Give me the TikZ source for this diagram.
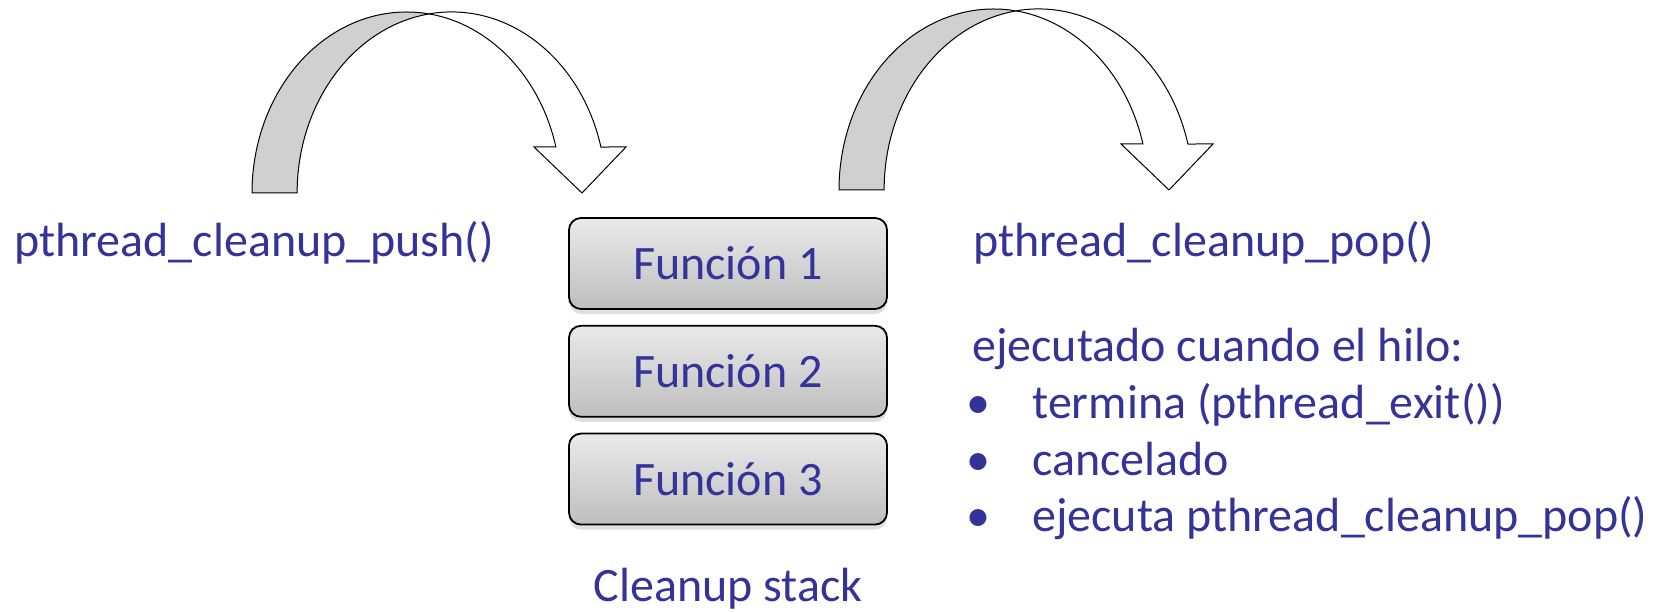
\documentclass[tikz,border=0pt]{standalone}
\usepackage{fontspec}
\setmainfont{Carlito}
\usetikzlibrary{positioning,shadows}

\definecolor{txtblue}{RGB}{51,51,153}
\definecolor{bandgray}{RGB}{208,208,208}
\definecolor{boxtop}{RGB}{234,234,234}
\definecolor{boxbot}{RGB}{190,190,190}

\begin{document}
\begin{tikzpicture}[x=0.5pt,y=0.5pt,
    lbl/.style={text=txtblue, font=\fontsize{24}{29}\selectfont, inner sep=0pt},
    stackbox/.style={lbl, draw=black, line width=0.9pt, rounded corners=6pt,
        minimum width=159pt, minimum height=45.5pt,
        top color=boxtop, bottom color=boxbot,
        drop shadow={shadow xshift=0pt, shadow yshift=-2.5pt, opacity=0.25}},
    band/.style={draw=black, line width=0.5pt},
    ell/.style={x radius=77.25pt, y radius=90.5pt}]
    \useasboundingbox (0,0) rectangle (1660,613);

    % the two curved arrows
    \foreach \dx/\dy in {0/0, 587/3} {
        \begin{scope}[shift={(\dx,\dy)}]
            \filldraw[band, fill=bandgray] (252,420)
                arc[ell, start angle=180, end angle=81.6]
                arc[ell, start angle=98.4, end angle=180] -- cycle;
            \filldraw[band, fill=white] (428.9,599.1)
                arc[ell, start angle=98.4, end angle=14.7]
                -- (626,466) -- (582,420) -- (534,466) -- (555.9,466)
                arc[ell, start angle=14.7, end angle=81.6] -- cycle;
        \end{scope}
    }

    \node[lbl, anchor=base west] (push) at (14,356) {pthread\_cleanup\_push()};
    \node[lbl, anchor=base west] (pop) at (973,356) {pthread\_cleanup\_pop()};

    % stack
    \node[stackbox] (f1) at (728,349.5) {Función 1};
    \node[stackbox, below=7.5pt of f1] (f2) {Función 2};
    \node[stackbox, below=7.5pt of f2] (f3) {Función 3};
    \node[lbl, anchor=base] (stack) at (728,11) {Cleanup stack};

    \node[lbl, anchor=base west] (cond) at (972,251) {ejecutado cuando el hilo:};
    \foreach \i/\y/\t in {1/194/{termina (pthread\_exit())}, 2/137/{cancelado}, 3/81/{ejecuta pthread\_cleanup\_pop()}} {
        \node[lbl, anchor=base] (dot\i) at (978,\y) {\textbullet};
        \node[lbl, anchor=base west] (b\i) at (1032,\y) {\t};
    }
\end{tikzpicture}
\end{document}
